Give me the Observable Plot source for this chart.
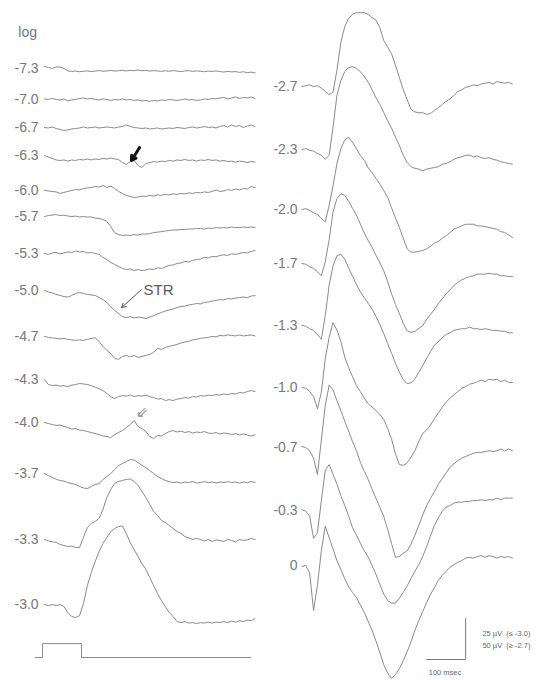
<!DOCTYPE html>
<html>
<head>
<meta charset="utf-8">
<script src="https://cdn.jsdelivr.net/npm/d3@7"></script>
<script src="https://cdn.jsdelivr.net/npm/@observablehq/plot@0.6"></script>
<style>
  html, body { margin: 0; padding: 0; background: #fff; }
  #chart svg { display: block; }
</style>
</head>
<body>
<div id="chart"></div>
<script>
// ---------- DATA ----------
// sample times (ms from stimulus onset)
const tMs = [5,15,25,35,45,55,65,75,85,95,
  105,115,125,135,145,155,165,175,185,195,
  205,215,225,235,245,255,265,275,285,295,
  305,315,325,335,345,355,365,375,385,395,
  405,415,425,435,445,455,465,475,485,495,
  505,515,525,535,545];

// log intensity labels
const leftLabels  = ["-7.3","-7.0","-6.7","-6.3","-6.0","-5.7","-5.3","-5.0","-4.7","-4.3","-4.0","-3.7","-3.3","-3.0"];
const rightLabels = ["-2.7","-2.3","-2.0","-1.7","-1.3","-1.0","-0.7","-0.3","0"];

// left column responses (µV, 25 µV scale)
const uv_m7_3 = [1.2,0.6,0,0.9,0.9,0,-1.5,-1.8,-1.6,-2,
  -1.7,-1.5,-1.9,-1.6,-1.3,-1.7,-1.5,-1.2,-1.6,-1.4,
  -1.1,-1.5,-1.2,-1.4,-1,-1.4,-1.2,-1.6,-1.3,-1.5,
  -1.8,-1.4,-1.7,-1.3,-1.6,-1.9,-1.5,-1.3,-1.8,-1.5,
  -1.7,-2,-1.6,-1.8,-1.5,-1.9,-2.2,-1.8,-2.1,-1.9,
  -2.4,-2,-2.6,-2.2,-2.7];
const uv_m7_0 = [0.3,0,0.6,0,-0.3,0.3,-0.9,-0.3,0,0.6,
  0.9,0.3,0.6,0,-0.3,0.3,0,-0.6,0,-0.3,
  0.3,-0.3,0,-0.6,-0.3,-0.9,-0.6,-1.2,-0.6,-0.9,
  -0.3,-0.6,0,-0.3,-0.6,-0.3,0.3,-0.3,0,-0.6,
  -0.3,0.3,0,0.6,0.3,0.9,1.2,0.3,0.9,1.5,
  0.6,1.2,0.9,1.5,0.6];
const uv_m6_7 = [0,-0.3,0.3,-0.6,-1.2,-1.8,-1.5,-0.9,-0.6,-0.3,
  0.3,-0.3,0,0.3,-0.3,0,0.3,0,-0.3,0.3,
  0.6,1.5,0.6,0,-0.3,-0.6,-0.3,-0.9,-0.6,-0.3,
  -0.9,-0.6,-0.3,-0.6,0,-0.3,-0.6,0,0.3,-0.3,
  0,0.6,0,0.3,-0.3,0.6,1.2,0.3,1.5,0.6,
  1.2,0,0.9,1.5,0.6];
const uv_m6_3 = [0,-0.9,-1.8,-2.7,-3,-2.7,-3.4,-2.7,-3,-2.4,
  -2.7,-2.1,-2.7,-2.1,-2.4,-1.8,-2.1,-1.5,-2.1,-2.4,
  -4.3,-5.5,-3.7,-3,-6.1,-7.3,-4.9,-4.3,-3.7,-4,
  -3.4,-3.7,-3,-3.4,-2.7,-3,-2.4,-3,-2.7,-3.4,
  -2.7,-3,-2.4,-3,-2.7,-3.4,-3,-3.7,-3.4,-4,
  -3.4,-3.7,-4.3,-3.7,-4];
const uv_m6_0 = [0,-0.3,-0.6,-0.9,-1.8,-1.2,-0.6,0,0.6,0.3,
  1.2,1.5,1.8,2.4,2.1,3,1.8,2.7,1.2,-0.6,
  -1.8,-3,-3.7,-4.3,-4,-3.4,-3.7,-3,-3.4,-2.7,
  -3,-2.4,-2.7,-2.1,-2.4,-1.8,-2.1,-1.5,-1.8,-1.2,
  -1.5,-0.9,-1.2,-0.6,0.3,-0.6,-0.3,0.6,0,0.9,
  0.3,1.2,0.9,2.4,1.8];
const uv_m5_7 = [0,0.6,0.9,1.2,0.6,0.9,0.3,0,0.3,-0.3,
  0,-0.3,-0.3,-0.9,-1.2,-1.8,-3,-6.1,-9.8,-11,
  -11.6,-11.3,-11.6,-11,-11.3,-10.7,-10.7,-10.4,-9.8,-9.5,
  -9.2,-8.8,-8.5,-8.2,-8.2,-7.9,-7.9,-7.6,-7.6,-7.3,
  -7.3,-7.6,-7,-7.3,-6.7,-7,-6.7,-7,-6.4,-6.7,
  -6.7,-6.4,-6.7,-6.4,-6.7];
const uv_m5_3 = [0,-0.6,0.3,0.6,-0.3,0.3,0.9,0.6,1.5,0.9,
  1.2,0.3,0.6,0,-0.6,-2.4,-3.7,-5.5,-6.7,-7.9,
  -9.2,-9.8,-9.5,-10.4,-9.8,-10.4,-10.1,-9.5,-9.8,-8.8,
  -9.2,-8.2,-7.3,-7,-6.1,-5.8,-4.9,-5.2,-4.3,-3.7,
  -3.4,-2.4,-2.7,-1.8,-2.1,-1.2,-0.9,-1.2,-0.3,-0.6,
  0,0.6,0.3,1.2,1.8];
const uv_m5_0 = [0,-0.9,-1.5,-2.4,-3,-3.7,-4,-3,-1.8,-1.2,
  -1.8,-2.4,-2.7,-3,-4.3,-5.5,-7.3,-9.8,-12.2,-14,
  -15.9,-16.5,-15.9,-16.8,-16.2,-16.5,-17.1,-16.2,-15.3,-14.3,
  -13.4,-12.5,-11.9,-11.3,-10.4,-9.8,-9.5,-8.8,-8.5,-7.9,
  -8.2,-7.3,-7,-6.4,-6.1,-5.5,-5.8,-4.9,-5.2,-4.6,
  -4.3,-4,-4.3,-3.4,-3.1];
const uv_m4_7 = [0,-0.6,-0.9,-1.2,-1.5,-1.2,-1.8,-2.1,-2.4,-2.1,
  -2.4,-1.8,-1.2,-0.9,-3,-6.1,-8.5,-10.4,-13.4,-14,
  -12.2,-11.6,-12.5,-11.6,-12.8,-12.2,-11.6,-11,-9.8,-7.3,
  -7.9,-6.7,-6.1,-5.5,-4.9,-4,-3.4,-3,-2.1,-1.8,
  -1.2,-0.9,-0.6,0,-0.3,0.6,0.3,0.9,0.6,0.3,
  0.9,0.3,0.6,0.9,0.3];
const uv_m4_3 = [0,-3,-3.7,-3.4,-4,-3.7,-4.3,-3.4,-3,-2.4,
  -2.7,-3,-3.7,-4.6,-5.5,-6.7,-8.5,-10.4,-11.6,-10.4,
  -9.8,-10.1,-9.5,-10.4,-9.8,-10.1,-9.5,-10.4,-11,-11.9,
  -11.6,-12.8,-12.2,-12.8,-11.9,-11.6,-11,-11.3,-10.4,-10.7,
  -9.8,-10.1,-9.5,-9.8,-9.2,-9.5,-8.8,-9.2,-8.5,-8.8,
  -7.9,-8.2,-7.3,-6.7,-7.3];
const uv_m4_0 = [0,-0.6,-1.2,-1.8,-1.5,-2.4,-3,-4,-3.7,-4.6,
  -4.9,-5.5,-6.1,-6.7,-7.3,-8.2,-8.5,-9.2,-7.3,-6.1,
  -4.9,-3,-1.2,1.2,-2.4,-3.7,-5.5,-8.5,-9.8,-7.9,
  -8.2,-6.7,-5.5,-4.9,-5.8,-5.2,-6.1,-5.5,-6.4,-5.8,
  -6.1,-5.5,-6.4,-6.7,-6.1,-7,-6.4,-6.7,-7.3,-6.7,
  -7.6,-7,-7.6,-8.2,-7.6];
const uv_m3_7 = [0,-1.2,-2.4,-3.4,-4.3,-4.6,-5.5,-6.1,-6.7,-7.9,
  -8.8,-9.2,-7.9,-6.7,-6.1,-3.7,-1.8,0,2.4,4.9,
  6.1,7.3,8.5,8.2,6.7,4.9,3.7,1.8,0,-1.8,
  -3,-4.3,-4.9,-5.5,-5.2,-5.8,-5.2,-5.5,-4.9,-5.8,
  -5.5,-4.9,-5.5,-5.2,-5.8,-5.2,-5.5,-4.9,-5.5,-5.2,
  -5.8,-5.2,-5.5,-4.9,-5.5];
const uv_m3_3 = [0,-0.9,-1.5,-1.8,-3,-3.7,-4.3,-4,-4.9,-4.9,
  1.2,7.3,9.8,11,12.8,18.3,25.6,30.5,34.2,35.4,
  36,36.6,36.9,35.4,32.9,29.3,25.6,21.4,17.1,14.6,
  11.6,10.4,8.5,6.7,4.9,3.7,1.8,0.9,0,0.6,
  0,-0.9,0,-1.2,-0.3,-0.6,-1.2,0,-0.6,-1.5,
  0,-0.6,-0.3,0.6,0];
const uv_m3_0 = [0,-0.6,0,-0.6,0,-1.2,-4.9,-7.3,-7.9,-6.7,
  0.6,11.6,19.5,26.2,32.3,37.2,40.9,44.5,46.4,47.6,
  47.9,43.3,37.8,33.5,29.3,25,21.4,16.5,11.6,6.7,
  2.4,-1.2,-4.9,-7.3,-10.4,-11,-10.4,-11.3,-11,-11.6,
  -11,-11.3,-10.7,-11.3,-10.7,-11,-10.4,-11,-10.1,-10.7,
  -9.8,-10.4,-9.5,-9.8,-8.5];

// right column responses (µV, 50 µV scale)
const uv_m2_7 = [0,1,2,0,1,-2,-6,-10,-7,20,
  54,73,83,88,90,90,90,88,84,81,
  72,56,48,40,26,11,-4,-16,-28,-31,
  -32,-32,-34,-33,-29,-26,-22,-18,-15,-11,
  -6,-4,-1,0,2,1,3,4,5,3,
  6,5,4,5,3];
const uv_m2_3 = [0,1,-1,-2,-5,-7,-12,-7,27,66,
  84,95,100,101,99,95,89,82,73,63,
  55,45,35,26,15,5,-7,-16,-21,-23,
  -24,-26,-24,-23,-22,-21,-18,-17,-15,-12,
  -10,-9,-7,-7,-9,-8,-10,-11,-10,-12,
  -13,-15,-16,-17,-18];
const uv_m2_0 = [0,1,-1,-4,-6,-11,-15,5,29,56,
  74,85,88,82,74,66,60,51,45,38,
  31,23,15,2,-10,-22,-35,-48,-52,-52,
  -51,-50,-48,-45,-41,-39,-35,-32,-28,-24,
  -22,-20,-18,-18,-18,-20,-20,-21,-22,-23,
  -24,-27,-28,-31,-34];
const uv_m1_7 = [0,-1,-4,-6,-10,-15,2,29,63,79,
  85,83,76,67,59,48,37,28,20,10,
  1,-9,-22,-37,-50,-61,-73,-82,-84,-83,
  -79,-76,-68,-62,-56,-49,-43,-37,-32,-27,
  -23,-20,-18,-16,-15,-13,-13,-13,-12,-13,
  -13,-15,-15,-16,-16];
const uv_m1_3 = [0,-1,-4,-6,-11,-17,12,49,73,85,
  87,81,70,60,50,41,34,27,20,11,
  1,-10,-22,-34,-46,-57,-66,-71,-70,-65,
  -57,-49,-40,-32,-24,-20,-15,-11,-9,-6,
  -5,-4,-4,-2,-4,-4,-5,-4,-5,-6,
  -6,-7,-7,-9,-9];
const uv_m1_0 = [0,-1,-5,-11,-26,-6,35,61,79,70,
  56,37,24,13,2,-5,-13,-20,-24,-28,
  -33,-39,-50,-63,-81,-94,-95,-92,-85,-77,
  -66,-56,-52,-46,-38,-31,-24,-18,-13,-9,
  -5,-1,1,4,5,7,9,7,10,9,
  10,7,9,6,6];
const uv_m0_7 = [1,0,-4,-13,-33,9,51,76,70,57,
  45,32,20,7,-4,-18,-29,-39,-51,-62,
  -73,-84,-100,-117,-134,-133,-129,-126,-118,-107,
  -95,-82,-71,-62,-54,-45,-38,-31,-24,-20,
  -16,-13,-11,-9,-7,-6,-6,-5,-4,-5,
  -4,-2,-4,-2,-4];
const uv_m0_3 = [1,-1,-7,-34,-27,12,49,56,44,32,
  18,6,-7,-21,-30,-40,-49,-57,-67,-78,
  -90,-102,-110,-113,-113,-107,-100,-92,-83,-74,
  -66,-56,-44,-31,-18,-9,-1,4,6,9,
  10,10,11,11,12,12,13,12,13,13,
  15,13,15,15,15];
const uv_0 = [-1,0,-9,-55,-24,18,48,34,20,6,
  -5,-16,-26,-33,-39,-48,-57,-68,-79,-92,
  -106,-121,-131,-138,-133,-126,-116,-105,-93,-79,
  -67,-56,-45,-35,-27,-18,-12,-7,-2,1,
  4,6,9,10,9,11,12,10,12,11,
  9,11,10,11,9];

// stimulus timing (ms) and sweep extent
const stimOnMs = 0, stimOffMs = 100, sweepStartMs = -18, sweepEndMs = 535;
// calibration
const calTimeMs = 100, calLeftUv = 25, calRightUv = 50;

// ---------- LAYOUT ----------
const W = 541, H = 680;
const PX_PER_MS = 0.39, X_ZERO_PX = 42, PX_PER_UNIT = 1.64;
const RIGHT_COL_MS = 660;
const RIGHT_GAIN = calLeftUv / calRightUv;
const leftBase  = [373.2,354.3,337.2,320.1,298.8,282.9,260.4,237.8,209.8,183.5,157.3,126.2,86.0,46.3];
const rightBase = [362.2,323.8,287.2,254.3,216.5,178.7,142.1,103.7,70.1];
const stimBase = 14.0, stimHeight = 8.5;
const calX = 1085, calY = 12.8;

const leftSeries  = [uv_m7_3,uv_m7_0,uv_m6_7,uv_m6_3,uv_m6_0,uv_m5_7,uv_m5_3,uv_m5_0,uv_m4_7,uv_m4_3,uv_m4_0,uv_m3_7,uv_m3_3,uv_m3_0];
const rightSeries = [uv_m2_7,uv_m2_3,uv_m2_0,uv_m1_7,uv_m1_3,uv_m1_0,uv_m0_7,uv_m0_3,uv_0];

const rows = [];
leftSeries.forEach((vals, i) => vals.forEach((v, k) => {
  if (k < tMs.length) rows.push({id: "L" + i, t: tMs[k], y: leftBase[i] + v});
}));
rightSeries.forEach((vals, i) => vals.forEach((v, k) => {
  if (k < tMs.length) rows.push({id: "R" + i, t: tMs[k] + RIGHT_COL_MS, y: rightBase[i] + v * RIGHT_GAIN});
}));

const labelRows = [
  ...leftLabels.map((s, i) => ({t: -10, y: leftBase[i], s})),
  ...rightLabels.map((s, i) => ({t: RIGHT_COL_MS - 6, y: rightBase[i], s}))
];

const stimRows = [
  {t: sweepStartMs, v: 0}, {t: stimOnMs, v: 1}, {t: stimOffMs, v: 0}, {t: sweepEndMs, v: 0}
];

const calRows = [
  {t: calX - calTimeMs, y: calY}, {t: calX, y: calY}, {t: calX, y: calY + calLeftUv}
];

const FONT = "'Liberation Sans', Arial, Helvetica, sans-serif";
const TXT = "#777";
const LINE = "#8a8a8a";

const chart = Plot.plot({
  width: W, height: H,
  margin: 0,
  x: {domain: [-X_ZERO_PX / PX_PER_MS, (W - X_ZERO_PX) / PX_PER_MS], axis: null},
  y: {domain: [0, H / PX_PER_UNIT], axis: null},
  marks: [
    Plot.line(rows, {x: "t", y: "y", z: "id", stroke: LINE, strokeWidth: 1, strokeLinejoin: "round"}),
    Plot.text(labelRows, {x: "t", y: "y", text: "s", textAnchor: "end", fontSize: 14, fill: TXT, fontFamily: FONT}),
    Plot.text([{t: -62, y: 395, s: "log"}], {x: "t", y: "y", text: "s", textAnchor: "start", fontSize: 14, fill: TXT, fontFamily: FONT}),
    // stimulus monitor
    Plot.line(stimRows, {x: "t", y: d => stimBase + d.v * stimHeight, curve: "step-after", stroke: LINE, strokeWidth: 1}),
    // annotations
    Plot.text([{t: 259, y: leftBase[7]}], {x: "t", y: "y", text: () => "STR", textAnchor: "start", fontSize: 15, fill: "#5a5a5a", fontFamily: FONT}),
    Plot.arrow([{t1: 254, y1: leftBase[7] + 0.6, t2: 203, y2: leftBase[7] - 10.4}], {x1: "t1", y1: "y1", x2: "t2", y2: "y2", stroke: "#555", strokeWidth: 1, headLength: 7}),
    Plot.arrow([{t1: 249, y1: leftBase[3] + 4.9, t2: 228, y2: leftBase[3] - 3}], {x1: "t1", y1: "y1", x2: "t2", y2: "y2", stroke: "#111", strokeWidth: 3, headLength: 5}),
    Plot.text([{t: 256, y: leftBase[10] + 6.1}], {x: "t", y: "y", text: () => "\u21D9", fontSize: 15, fill: "#888", fontFamily: "'DejaVu Sans', sans-serif"}),
    // calibration bars
    Plot.line(calRows, {x: "t", y: "y", stroke: "#777", strokeWidth: 1}),
    Plot.text([{t: 1128, y: 28.7, s: "25 \u00B5V  (\u2264 -3.0)"}, {t: 1128, y: 21.3, s: "50 \u00B5V  (\u2265 -2.7)"}],
      {x: "t", y: "y", text: "s", textAnchor: "start", fontSize: 7.5, fill: "#666", fontFamily: FONT}),
    Plot.text([{t: calX - calTimeMs / 2 - 3, y: 4.9, s: "100 msec"}], {x: "t", y: "y", text: "s", fontSize: 7.5, fill: "#666", fontFamily: FONT})
  ]
});
document.getElementById("chart").appendChild(chart);
</script>
</body>
</html>
